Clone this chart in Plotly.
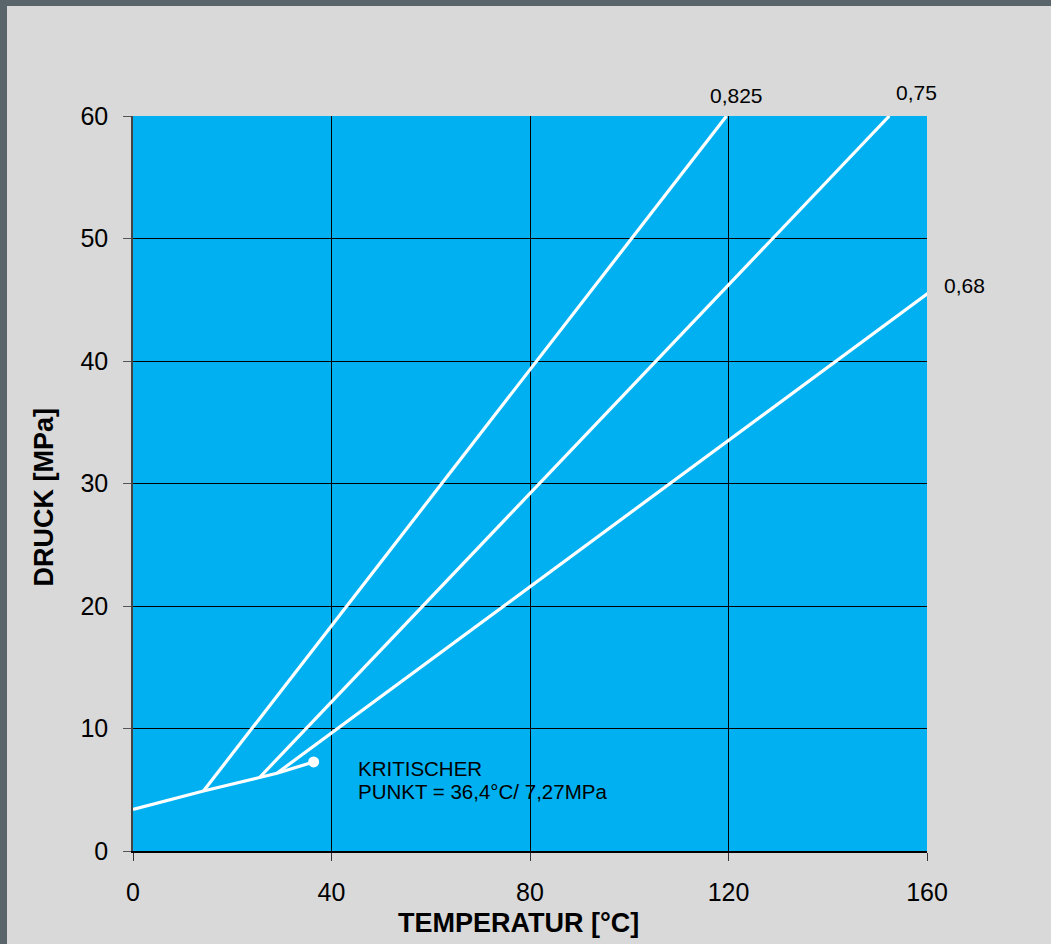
import plotly.graph_objects as go

# Vapor pressure curve (temperature °C, pressure MPa) up to critical point
vp_t = [0, 14.2, 25.5, 29.0, 36.4]
vp_p = [3.4, 4.9, 6.0, 6.35, 7.27]

# Isochores (density labels)
iso_labels = ["0,825", "0,75", "0,68"]
iso_t = [[14.2, 119.6], [25.5, 152.4], [29.0, 160.8]]
iso_p = [[4.9, 60.0], [6.0, 60.0], [6.35, 45.7]]
label_t = [121.6, 157.8, 167.6]
label_p = [61.7, 61.9, 46.2]

crit_t = [36.4]
crit_p = [7.27]
crit_lines = ["KRITISCHER", "PUNKT = 36,4°C/ 7,27MPa"]
crit_line_p = [6.73, 4.82]
crit_text_t = 44.9

x_ticks = [0, 40, 80, 120, 160]
y_ticks = [0, 10, 20, 30, 40, 50, 60]
x_range = [0, 160]
y_range = [0, 60]

BLUE = "#00b0f0"
BG = "#d9d9d9"
DARK = "#59656a"
FONT = "Liberation Sans, Arial, sans-serif"

fig = go.Figure()

fig.add_trace(go.Scatter(x=vp_t, y=vp_p, mode="lines",
                         line=dict(color="white", width=3.2),
                         cliponaxis=False, showlegend=False, hoverinfo="skip"))
fig.add_trace(go.Scatter(x=crit_t, y=crit_p, mode="markers",
                         marker=dict(color="white", size=11),
                         cliponaxis=False, showlegend=False, hoverinfo="skip"))
for t, p in zip(iso_t, iso_p):
    fig.add_trace(go.Scatter(x=t, y=p, mode="lines",
                             line=dict(color="white", width=3.2),
                             cliponaxis=False, showlegend=False, hoverinfo="skip"))


def to_paper_x(v):
    return (v - x_range[0]) / (x_range[1] - x_range[0])


def to_paper_y(v):
    return (v - y_range[0]) / (y_range[1] - y_range[0])


annotations = []
for lab, t, p in zip(iso_labels, label_t, label_p):
    annotations.append(dict(x=to_paper_x(t), y=to_paper_y(p), xref="paper", yref="paper",
                            text=lab, showarrow=False,
                            font=dict(family=FONT, size=21, color="black"),
                            xanchor="center", yanchor="middle"))
for line, p in zip(crit_lines, crit_line_p):
    annotations.append(dict(x=crit_text_t, y=p, xref="x", yref="y", text=line, showarrow=False,
                            font=dict(family=FONT, size=20.5, color="black"),
                            xanchor="left", yanchor="middle", align="left"))

# axis titles
annotations.append(dict(x=0.486, y=-0.098, xref="paper", yref="paper",
                        text="<b>TEMPERATUR [°C]</b>", showarrow=False,
                        font=dict(family=FONT, size=27, color="black"),
                        xanchor="center", yanchor="middle"))
annotations.append(dict(x=-0.1115, y=0.4816, xref="paper", yref="paper",
                        text="<b>DRUCK [MPa]</b>", showarrow=False, textangle=-90,
                        font=dict(family=FONT, size=27, color="black"),
                        xanchor="center", yanchor="middle"))

shapes = [
    dict(type="rect", xref="paper", yref="paper", x0=-0.3, x1=1.3,
         y0=(851 - 6) / 735, y1=1.3, fillcolor=DARK, line=dict(width=0), layer="below"),
    dict(type="rect", xref="paper", yref="paper", x0=-0.3, x1=(7 - 133) / 794,
         y0=-0.3, y1=1.3, fillcolor=DARK, line=dict(width=0), layer="below"),
]

fig.update_layout(
    width=1051, height=944,
    margin=dict(l=133, r=124, t=116, b=93, pad=0),
    paper_bgcolor=BG, plot_bgcolor=BLUE,
    font=dict(family=FONT, color="black"),
    annotations=annotations, shapes=shapes,
    xaxis=dict(range=x_range, tickvals=x_ticks, ticktext=[str(v) for v in x_ticks],
               showgrid=True, gridcolor="black", gridwidth=1,
               showline=True, linecolor="black", linewidth=2,
               ticks="outside", ticklen=8, tickcolor="#333333", tickwidth=1,
               tickfont=dict(family=FONT, size=25, color="black"),
               ticklabelstandoff=10, zeroline=False, fixedrange=True),
    yaxis=dict(range=y_range, tickvals=y_ticks, ticktext=[str(v) for v in y_ticks],
               showgrid=True, gridcolor="black", gridwidth=1,
               showline=True, linecolor="#444444", linewidth=1.5,
               ticks="outside", ticklen=8, tickcolor="#555555", tickwidth=1,
               tickfont=dict(family=FONT, size=25, color="black"),
               ticklabelstandoff=10, zeroline=False, fixedrange=True),
)

fig.write_html("out.html", config={"displayModeBar": False},
               post_script="document.body.style.margin='0';document.body.style.background='#d9d9d9';")
